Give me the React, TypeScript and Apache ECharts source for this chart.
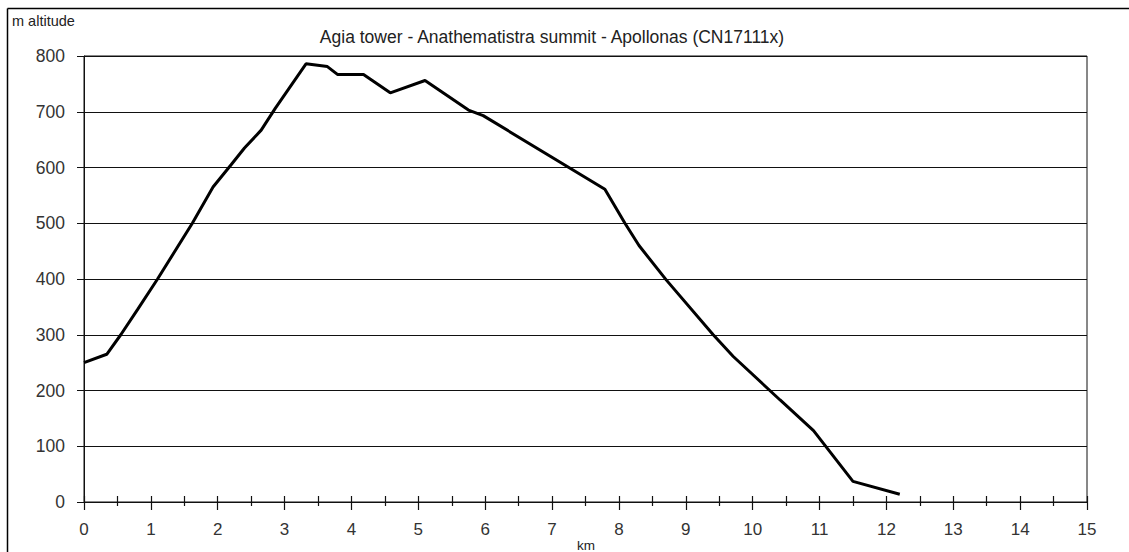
import React, { useEffect, useRef } from "react";
import * as echarts from "echarts";

const distanceKm = [0, 0.34, 0.55, 0.8, 1.1, 1.62, 1.93, 2.2, 2.4, 2.65, 2.86, 3.32, 3.64, 3.79, 4.18, 4.58, 5.1, 5.75, 5.97, 7.79, 8.09, 8.3, 8.71, 9.41, 9.71, 10.41, 10.91, 11.5, 12.2];
const altitudeM = [250, 265, 300, 345, 400, 500, 565, 605, 635, 667, 706, 786, 781, 767, 767, 734, 756, 703, 693, 561, 500, 460, 398, 300, 261, 183, 128, 37, 14];

const titleText = "Agia tower - Anathematistra summit - Apollonas (CN17111x)";
const yAxisTitle = "m altitude";
const xAxisTitle = "km";

const FONT = "Arial, 'Liberation Sans', sans-serif";

export default function App() {
  const ref = useRef<HTMLDivElement>(null);
  useEffect(() => {
    if (!ref.current) return;
    const chart = echarts.init(ref.current, undefined, { renderer: "svg" });
    const points = distanceKm.map((x, i) => [x, altitudeM[i]]);
    chart.setOption({
      animation: false,
      backgroundColor: "#fff",
      grid: {
        left: 84,
        right: 42,
        top: 56,
        bottom: 50,
        show: true,
        borderColor: "#111",
        borderWidth: 1,
      },
      xAxis: [
        {
          type: "value",
          min: 0,
          max: 15,
          interval: 1,
          axisLine: { show: true, onZero: false, lineStyle: { color: "#111", width: 1 } },
          axisTick: { show: true, length: 8, lineStyle: { color: "#111", width: 1.2 } },
          minorTick: { show: true, splitNumber: 2, length: 4, lineStyle: { color: "#111", width: 1.2 } },
          axisLabel: { fontSize: 17, color: "#333", margin: 19, fontFamily: FONT },
          splitLine: { show: false },
        },
        {
          type: "value",
          position: "bottom",
          min: 0,
          max: 15,
          interval: 1,
          axisLine: { show: false, onZero: false },
          axisTick: { show: true, inside: true, length: 6, lineStyle: { color: "#111", width: 1.2 } },
          minorTick: { show: true, splitNumber: 2, length: 6, lineStyle: { color: "#111", width: 1.2 } },
          axisLabel: { show: false },
          splitLine: { show: false },
        },
      ],
      yAxis: {
        type: "value",
        min: 0,
        max: 800,
        interval: 100,
        axisLine: { show: true, onZero: false, lineStyle: { color: "#111", width: 1 } },
        axisTick: { show: true, length: 7, lineStyle: { color: "#111", width: 1 } },
        axisLabel: { fontSize: 17.5, color: "#333", margin: 19, fontFamily: FONT },
        splitLine: { show: true, lineStyle: { color: "#111", width: 1 } },
      },
      series: [
        {
          type: "line",
          data: points,
          showSymbol: false,
          symbol: "none",
          lineStyle: { color: "#000", width: 3 },
          z: 5,
        },
      ],
      graphic: [
        {
          type: "line",
          shape: { x1: 7.5, y1: 8.5, x2: 1129, y2: 8.5 },
          style: { stroke: "#000", lineWidth: 1.5 },
        },
        {
          type: "line",
          shape: { x1: 7.5, y1: 8.5, x2: 7.5, y2: 552 },
          style: { stroke: "#000", lineWidth: 1.5 },
        },
        {
          type: "text",
          x: 552,
          y: 37,
          style: {
            text: titleText,
            fontSize: 17.5,
            fill: "#222",
            fontFamily: FONT,
            align: "center",
            textAlign: "center",
            verticalAlign: "middle",
            textVerticalAlign: "middle",
          },
        },
        {
          type: "text",
          x: 12,
          y: 21,
          style: {
            text: yAxisTitle,
            fontSize: 14.5,
            fill: "#222",
            fontFamily: FONT,
            textVerticalAlign: "middle",
            verticalAlign: "middle",
          },
        },
        {
          type: "text",
          x: 586,
          y: 545,
          style: {
            text: xAxisTitle,
            fontSize: 13.5,
            fill: "#222",
            fontFamily: FONT,
            align: "center",
            textAlign: "center",
            verticalAlign: "middle",
            textVerticalAlign: "middle",
          },
        },
      ],
    });
    return () => chart.dispose();
  }, []);
  return (
    <div
      ref={ref}
      style={{ position: "fixed", left: 0, top: 0, width: 1129, height: 552 }}
    />
  );
}
